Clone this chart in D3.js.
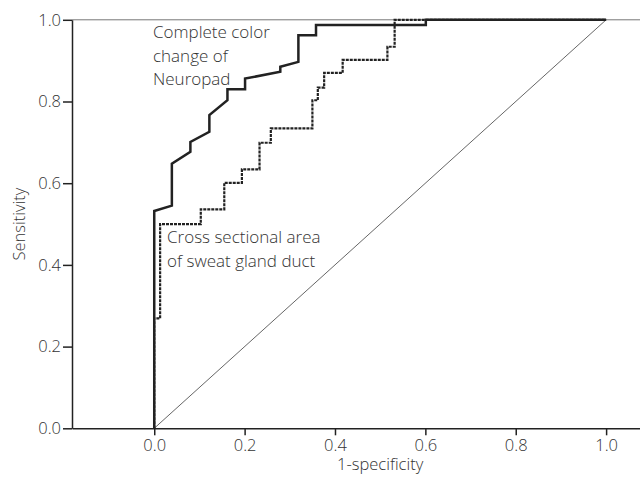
<!DOCTYPE html>
<html>
<head>
<meta charset="utf-8">
<script src="https://cdn.jsdelivr.net/npm/d3@7/dist/d3.min.js"></script>
<style>
body { margin: 0; background: #fff; }
text { font-family: "Open Sans", "Noto Sans", sans-serif; font-weight: 300; fill: #333; }
</style>
</head>
<body>
<div id="chart"></div>
<script>
// ROC curves
let neuropadFpr = [0, 0, 0.039, 0.039, 0.080, 0.080, 0.122, 0.122, 0.162, 0.162, 0.201, 0.201, 0.279, 0.279, 0.319, 0.319, 0.358, 0.358, 0.601, 0.601, 1.0];
let neuropadTpr = [0, 0.532, 0.545, 0.648, 0.677, 0.701, 0.726, 0.767, 0.803, 0.830, 0.830, 0.856, 0.873, 0.885, 0.897, 0.962, 0.962, 0.987, 0.987, 1.0, 1.0];

let ductFpr = [0, 0, 0.013, 0.013, 0.103, 0.103, 0.155, 0.155, 0.194, 0.194, 0.233, 0.233, 0.258, 0.258, 0.350, 0.350, 0.362, 0.362, 0.376, 0.376, 0.417, 0.417, 0.516, 0.516, 0.532, 0.532, 1.0];
let ductTpr = [0, 0.269, 0.269, 0.5, 0.5, 0.536, 0.536, 0.601, 0.601, 0.634, 0.634, 0.699, 0.699, 0.734, 0.734, 0.803, 0.803, 0.834, 0.834, 0.870, 0.870, 0.902, 0.902, 0.934, 0.934, 1.0, 1.0];

let refFpr = [0, 1];
let refTpr = [0, 1];

let xTicks = [0, 0.2, 0.4, 0.6, 0.8, 1.0];
let yTicks = [0, 0.2, 0.4, 0.6, 0.8, 1.0];

let width = 640, height = 481;
let plotLeft = 72, plotRight = 640, plotTop = 19.8, plotBottom = 428.3;

let svg = d3.select("#chart").append("svg")
    .attr("width", width)
    .attr("height", height);

let x = d3.scaleLinear().domain([-0.182, 1.075]).range([plotLeft, plotRight]);
let y = d3.scaleLinear().domain([0, 1]).range([plotBottom, plotTop]);

let fmt = d3.format(".1f");

// top frame line
svg.append("line")
    .attr("x1", x(-0.182)).attr("x2", x(1.075))
    .attr("y1", y(1)).attr("y2", y(1))
    .attr("stroke", "#777").attr("stroke-width", 1);

let line = d3.line().x(d => x(d[0])).y(d => y(d[1]));

// chance diagonal
svg.append("path")
    .datum(refFpr.map((v, i) => [v, refTpr[i]]))
    .attr("d", line)
    .attr("fill", "none").attr("stroke", "#555").attr("stroke-width", 0.9);

svg.append("path")
    .datum(ductFpr.map((v, i) => [v, ductTpr[i]]))
    .attr("d", line)
    .attr("fill", "none").attr("stroke", "#222").attr("stroke-width", 2.2)
    .attr("stroke-dasharray", "3,1");

svg.append("path")
    .datum(neuropadFpr.map((v, i) => [v, neuropadTpr[i]]))
    .attr("d", line)
    .attr("fill", "none").attr("stroke", "#222").attr("stroke-width", 2.5);

let xAxis = svg.append("g")
    .attr("transform", "translate(0," + plotBottom + ")")
    .call(d3.axisBottom(x).tickValues(xTicks).tickFormat(fmt).tickSize(7).tickSizeOuter(0).tickPadding(4));

let yAxis = svg.append("g")
    .attr("transform", "translate(" + plotLeft + ",0)")
    .call(d3.axisLeft(y).tickValues(yTicks).tickFormat(fmt).tickSize(9).tickSizeOuter(0).tickPadding(2));

[xAxis, yAxis].forEach(g => {
    g.selectAll("path, line").attr("stroke", "#222").attr("stroke-width", 1.5);
    g.selectAll("text").attr("font-size", 16.5).attr("fill", "#333")
        .style("font-family", "'Open Sans', sans-serif").style("font-weight", 300);
});

svg.append("text")
    .attr("x", x(0.5)).attr("y", 470)
    .attr("text-anchor", "middle").attr("font-size", 16.5)
    .text("1-specificity");

svg.append("text")
    .attr("transform", "translate(25," + y(0.5) + ") rotate(-90)")
    .attr("text-anchor", "middle").attr("font-size", 16.5)
    .text("Sensitivity");

let note1 = ["Complete color", "change of", "Neuropad"];
note1.forEach((t, i) => {
    svg.append("text")
        .attr("x", 153).attr("y", 38.3 + i * 23.4)
        .attr("font-size", 17)
        .text(t);
});

let note2 = ["Cross sectional area", "of sweat gland duct"];
note2.forEach((t, i) => {
    svg.append("text")
        .attr("x", 167).attr("y", 243.3 + i * 23.4)
        .attr("font-size", 17)
        .text(t);
});
</script>
</body>
</html>
